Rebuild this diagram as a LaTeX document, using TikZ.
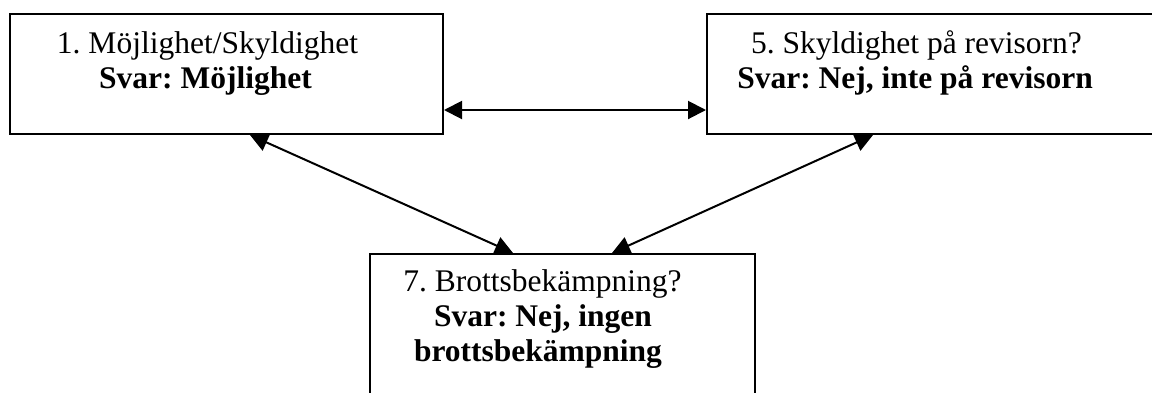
\documentclass[tikz,border=0pt]{standalone}
\usepackage{fontspec}
\setmainfont{Liberation Serif}
\usetikzlibrary{arrows.meta,calc}
\frenchspacing
\begin{document}
\begin{tikzpicture}[x=1pt,y=-1pt,
  box/.style={draw, line width=2pt, inner sep=0pt, anchor=north west},
  txtline/.style={anchor=base, inner sep=0pt, font=\fontsize{31.5}{36}\selectfont},
  boldline/.style={anchor=base, inner sep=0pt, font=\fontsize{31.5}{36}\selectfont\bfseries},
  conn/.style={line width=2pt, {Triangle[length=18pt,width=18pt]}-{Triangle[length=18pt,width=18pt]}}]
\useasboundingbox (0,0) rectangle (1152,392);
% boxes
\node[box, minimum width=433pt, minimum height=120pt] (b1) at (9,13) {};
\node[box, minimum width=449pt, minimum height=120pt] (b5) at (706,13) {};
\node[box, minimum width=385pt, minimum height=150pt] (b7) at (369,253) {};
% texts
\node[txtline] (t1a) at (207.5,53) {1. Möjlighet/Skyldighet};
\node[boldline] (t1b) at (205.5,88) {Svar: Möjlighet};
\node[txtline] (t5a) at (916.5,53) {5. Skyldighet på revisorn?};
\node[boldline] (t5b) at (915,88) {Svar: Nej, inte på revisorn};
\node[txtline] (t7a) at (542.5,291) {7. Brottsbekämpning?};
\node[boldline] (t7b) at (543,326) {Svar: Nej, ingen};
\node[boldline] (t7c) at (538,361) {brottsbekämpning};
% connectors
\draw[conn] (b1.east |- 0,110) -- (b5.west |- 0,110);
\draw[conn] ($(b1.south west)+(241,0)$) -- ($(b7.north west)+(144,0)$);
\draw[conn] ($(b5.south west)+(167,0)$) -- ($(b7.north west)+(243,0)$);
\end{tikzpicture}
\end{document}
